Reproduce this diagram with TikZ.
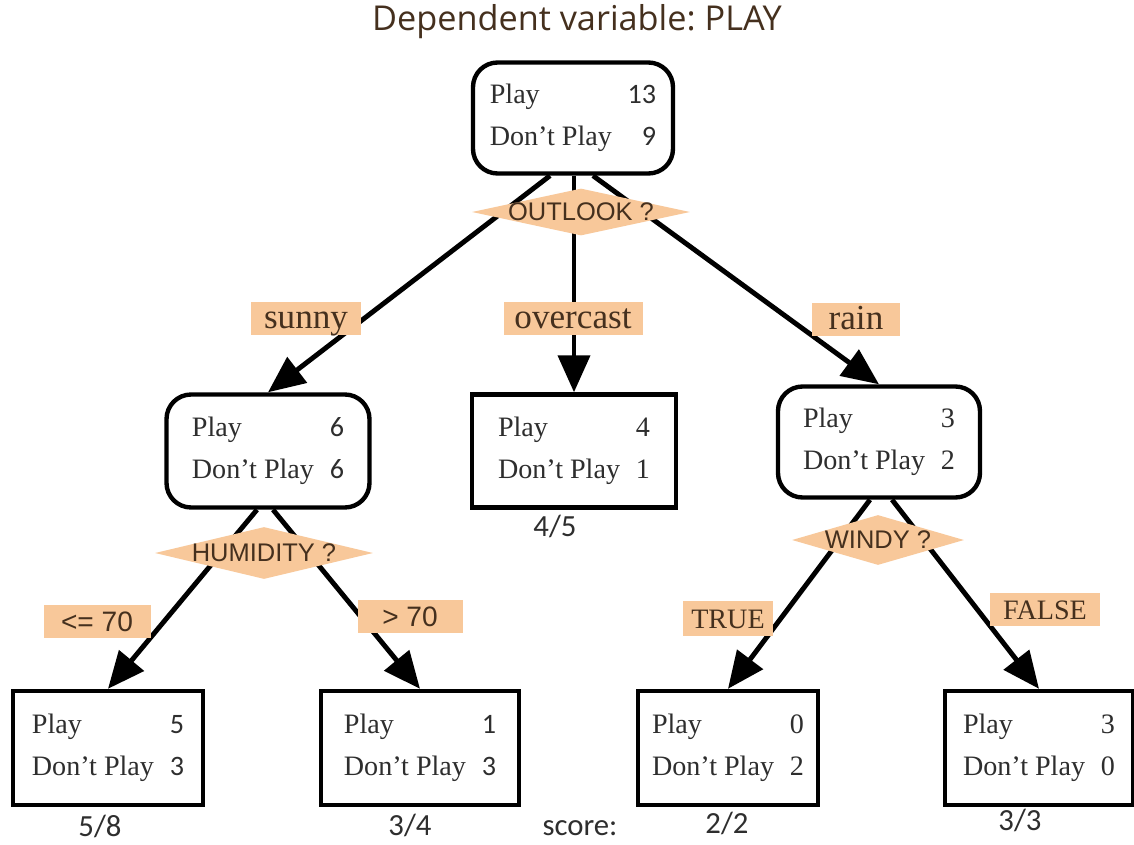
\documentclass[tikz,border=0pt]{standalone}
\usepackage{fontspec}
\setmainfont{Liberation Serif}
\newfontfamily\sansA{Liberation Sans}
\newfontfamily\calib{Carlito}
\newfontfamily\titlef{Open Sans}
\usetikzlibrary{arrows.meta,shapes.geometric,calc}
\newlength\pxu \setlength\pxu{0.02cm}
\definecolor{peach}{HTML}{F8C89A}
\definecolor{ink}{HTML}{2E2E2E}
\definecolor{brownink}{HTML}{45301E}
\newcommand{\stat}[3]{{\setlength\tabcolsep{0pt}\begin{tabular}{l@{\hspace{9pt}}r}Play & {#1#2}\\[5pt] Don't Play & {#1#3}\end{tabular}}}
\frenchspacing
\begin{document}
\begin{tikzpicture}[x=0.02cm,y=-0.02cm,
 rbox/.style={draw, line width=2.5pt, rounded corners=14pt, fill=white, text=ink, font=\fontsize{16}{18.5}\selectfont, inner sep=0pt},
 sbox/.style={draw, line width=2.5pt, fill=white, text=ink, font=\fontsize{16}{18.5}\selectfont, inner sep=0pt},
 cond/.style={shape=diamond, fill=peach, inner sep=0pt},
 dtext/.style={font=\sansA\fontsize{14.5}{17}\selectfont, text=brownink},
 elab/.style={fill=peach, text=brownink, inner sep=0pt, minimum height=33\pxu, text height=14pt, text depth=2.6pt, font=\fontsize{20}{22}\selectfont},
 elabs/.style={elab, font=\sansA\fontsize{16}{18}\selectfont, text height=12pt, text depth=0.6pt},
 elabt/.style={elab, font=\fontsize{16}{18}\selectfont, text height=12pt, text depth=0.6pt},
 arr/.style={line width=2.8pt, -{Triangle[length=21pt,width=18pt]}},
 score/.style={font=\calib\fontsize{17.5}{20}\selectfont, text=ink, anchor=base, inner sep=1pt}
]
\fill[white] (0,0) rectangle (1134,845);
\useasboundingbox (0,0) rectangle (1134,845);

\node[font=\titlef\fontsize{19.5}{23}\selectfont, text=brownink] (title) at (577,22) {Dependent variable: PLAY};

% boxes
\node[rbox, minimum width=200\pxu, minimum height=111\pxu] (root) at (573,118) {\stat{\calib}{13}{9}};
\node[rbox, minimum width=203\pxu, minimum height=113\pxu] (sunnyn) at (268,451) {\stat{\calib}{6}{6}};
\node[sbox, minimum width=204\pxu, minimum height=113\pxu] (overn) at (574,451) {\stat{}{4}{1}};
\node[rbox, minimum width=202\pxu, minimum height=111\pxu] (rainn) at (879,442) {\stat{}{3}{2}};
\node[sbox, minimum width=190\pxu, minimum height=114\pxu] (leafa) at (108,748) {\stat{\calib}{5}{3}};
\node[sbox, minimum width=198\pxu, minimum height=114\pxu] (leafb) at (420,748) {\stat{\calib}{1}{3}};
\node[sbox, minimum width=180\pxu, minimum height=114\pxu] (leafc) at (728,748) {\stat{}{0}{2}};
\node[sbox, minimum width=188\pxu, minimum height=114\pxu] (leafd) at (1039,748) {\stat{}{3}{0}};

% edges
\draw[arr] ($(root.south)+(-23,0)$) -- (sunnyn.north);
\draw[arr] ($(root.south)+(1,0)$) -- (overn.north);
\draw[arr] ($(root.south)+(20,0)$) -- (rainn.north);
\draw[arr] ($(sunnyn.south)+(-11,0)$) -- (leafa.north);
\draw[arr] ($(sunnyn.south)+(5,0)$) -- (leafb.north);
\draw[arr] ($(rainn.south)+(-9,0)$) -- (leafc.north);
\draw[arr] ($(rainn.south)+(13,0)$) -- (leafd.north);

% conditions
\node[cond, minimum width=218\pxu, minimum height=47\pxu, label={[dtext]center:OUTLOOK ?}] (qout) at (581,212) {};
\node[cond, minimum width=218\pxu, minimum height=52\pxu, label={[dtext]center:HUMIDITY ?}] (qhum) at (264,553) {};
\node[cond, minimum width=172\pxu, minimum height=50\pxu, label={[dtext]center:WINDY ?}] (qwin) at (878,540) {};

% edge labels
\node[elab, minimum width=110\pxu] (lsunny) at (306,318) {sunny};
\node[elab, minimum width=139\pxu] (lover) at (573,318) {overcast};
\node[elab, minimum width=88\pxu] (lrain) at (856,319) {rain};
\node[elabs, minimum width=107\pxu] (lle) at (97,621) {<= 70};
\node[elabs, minimum width=105\pxu] (lgt) at (410,616) {> 70};
\node[elabt, minimum width=90\pxu, minimum height=35\pxu] (ltrue) at (728,618) {TRUE};
\node[elabt, minimum width=110\pxu] (lfalse) at (1045,609) {FALSE};

% scores
\node[score] (s45) at (555,536) {4/5};
\node[score] (s58) at (100,836) {5/8};
\node[score] (s34) at (410,835) {3/4};
\node[score] (scl) at (580,835) {score:};
\node[score] (s22) at (727,833) {2/2};
\node[score] (s33) at (1020,830) {3/3};
\end{tikzpicture}
\end{document}
